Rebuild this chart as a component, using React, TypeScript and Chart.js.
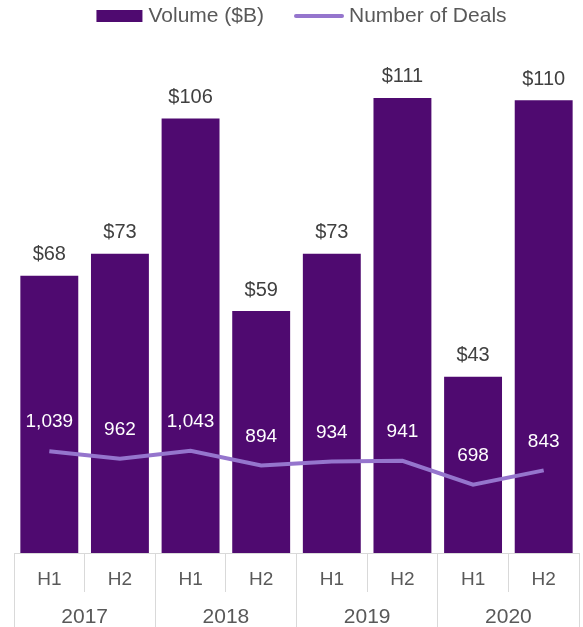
import React, { useEffect, useRef } from "react";
import { Chart, registerables } from "chart.js";

Chart.register(...registerables);

const halves = ["H1", "H2", "H1", "H2", "H1", "H2", "H1", "H2"];
const years = ["2017", "2018", "2019", "2020"];
const volume = [67.6, 73, 106, 59, 73, 111, 43, 110.4];
const deals = [1039, 962, 1043, 894, 934, 941, 698, 843];
const seriesNames = ["Volume ($B)", "Number of Deals"];

const BAR_COLOR = "#4F0A70";
const LINE_COLOR = "#9575CD";
const TEXT_GRAY = "#595959";
const GRID = "#d9d9d9";
const FONT = "'Liberation Sans', Arial, sans-serif";

const labelPlugin = {
  id: "valueLabels",
  afterDatasetsDraw(chart: any) {
    const ctx = chart.ctx;
    ctx.save();
    ctx.textAlign = "center";
    ctx.textBaseline = "middle";
    const barMeta = chart.getDatasetMeta(0);
    ctx.font = `20px ${FONT}`;
    ctx.fillStyle = "#404040";
    barMeta.data.forEach((el: any, i: number) => {
      ctx.fillText("$" + Math.round(volume[i]), el.x, el.y - 21);
    });
    const lineMeta = chart.getDatasetMeta(1);
    ctx.font = `19px ${FONT}`;
    ctx.fillStyle = "#ffffff";
    lineMeta.data.forEach((el: any, i: number) => {
      ctx.fillText(deals[i].toLocaleString("en-US"), el.x, el.y - 29);
    });
    ctx.restore();
  },
  afterDraw(chart: any) {
    const ctx = chart.ctx;
    ctx.save();
    ctx.textAlign = "center";
    ctx.textBaseline = "middle";
    ctx.fillStyle = TEXT_GRAY;
    const sx = chart.scales.x;
    ctx.font = `19px ${FONT}`;
    halves.forEach((lab, i) => {
      ctx.fillText(lab, sx.getPixelForTick(i), sx.top + 27);
    });
    const sx2 = chart.scales.x2;
    ctx.font = `21px ${FONT}`;
    years.forEach((lab, i) => {
      ctx.fillText(lab, sx2.getPixelForTick(i), sx2.top + 25);
    });

    // legend
    ctx.font = `21px ${FONT}`;
    ctx.textAlign = "left";
    const cy = 16;
    const w0 = ctx.measureText(seriesNames[0]).width;
    const w1 = ctx.measureText(seriesNames[1]).width;
    const total = 46 + 6 + w0 + 30 + 50 + 5 + w1;
    let x = (chart.width - total) / 2 + 10;
    ctx.fillStyle = BAR_COLOR;
    ctx.fillRect(x, cy - 6, 46, 12);
    x += 46 + 6;
    ctx.fillStyle = TEXT_GRAY;
    ctx.fillText(seriesNames[0], x, cy);
    x += w0 + 30;
    ctx.strokeStyle = LINE_COLOR;
    ctx.lineWidth = 4;
    ctx.lineCap = "round";
    ctx.beginPath();
    ctx.moveTo(x + 2, cy);
    ctx.lineTo(x + 48, cy);
    ctx.stroke();
    x += 50 + 5;
    ctx.fillText(seriesNames[1], x, cy);
    ctx.restore();
  },
};

export default function App() {
  const ref = useRef<HTMLCanvasElement>(null);
  useEffect(() => {
    if (!ref.current) return;
    const chart = new Chart(ref.current, {
      type: "bar",
      data: {
        labels: halves,
        datasets: [
          {
            type: "bar",
            label: seriesNames[0],
            data: volume,
            backgroundColor: BAR_COLOR,
            borderColor: BAR_COLOR,
            borderWidth: 0,
            barPercentage: 0.82,
            categoryPercentage: 1,
            yAxisID: "y",
            order: 1,
          } as any,
          {
            type: "line",
            label: seriesNames[1],
            data: deals,
            borderColor: LINE_COLOR,
            backgroundColor: LINE_COLOR,
            borderWidth: 4,
            pointRadius: 0,
            tension: 0,
            yAxisID: "y1",
            order: 0,
          } as any,
        ],
      },
      options: {
        animation: false,
        responsive: true,
        maintainAspectRatio: false,
        layout: { padding: { left: 14, right: 4, top: 36, bottom: 0 } },
        plugins: {
          tooltip: { enabled: false },
          legend: { display: false },
        },
        scales: {
          x: {
            type: "category",
            offset: true,
            weight: 0,
            grid: { offset: true, drawOnChartArea: false, tickLength: 39, color: GRID },
            border: { display: true, color: GRID },
            ticks: { display: false },
          },
          x2: {
            type: "category",
            labels: years,
            position: "bottom",
            offset: true,
            weight: 1,
            grid: { offset: true, drawOnChartArea: false, tickLength: 35, color: GRID },
            border: { display: false },
            ticks: { display: false },
          },
          y: { display: false, min: 0, max: 126.1 },
          y1: { display: false, min: 0, max: 5275, position: "right" },
        },
      } as any,
      plugins: [labelPlugin],
    });
    return () => chart.destroy();
  }, []);
  return (
    <div style={{ position: "fixed", left: 0, top: 0, width: 583, height: 627 }}>
      <canvas ref={ref} />
    </div>
  );
}
